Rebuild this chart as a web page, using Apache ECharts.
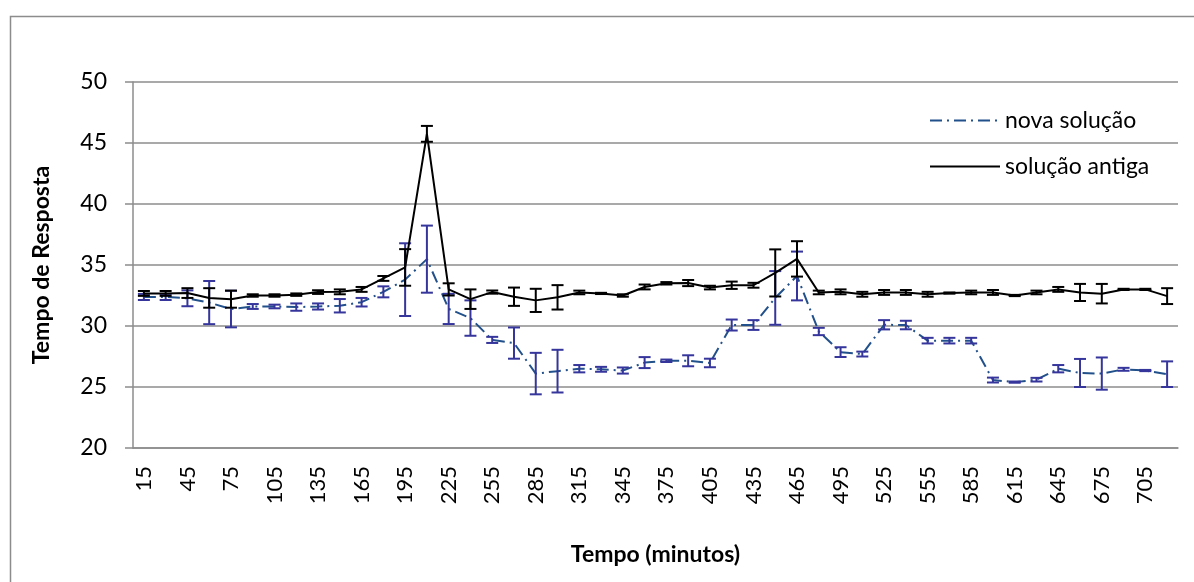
<!DOCTYPE html>
<html>
<head>
<meta charset="utf-8">
<script src="https://cdn.jsdelivr.net/npm/echarts@6/dist/echarts.min.js"></script>
<style>
html,body{margin:0;padding:0;background:#fff;}
#chart{width:1194px;height:582px;}
</style>
</head>
<body>
<div id="chart"></div>
<script>
// Categories (minutes)
var categories = ['15','30','45','60','75','90','105','120','135','150','165','180','195','210','225','240',
  '255','270','285','300','315','330','345','360','375','390','405','420','435','450','465','480',
  '495','510','525','540','555','570','585','600','615','630','645','660','675','690','705','720'];

// nova solução: mean response time and error amount
var novaValues = [32.38,32.38,32.27,31.92,31.39,31.6,31.6,31.55,31.6,31.66,31.95,32.8,33.8,35.48,31.4,30.65,
  28.86,28.6,26.1,26.3,26.5,26.45,26.35,27.0,27.15,27.15,26.97,30.08,30.08,32.3,34.1,29.55,
  27.86,27.7,30.1,30.08,28.8,28.8,28.8,25.57,25.4,25.6,26.5,26.15,26.1,26.45,26.35,26.05];
var novaErrors = [0.25,0.25,0.65,1.77,1.5,0.2,0.15,0.3,0.25,0.55,0.35,0.45,2.98,2.75,1.24,1.45,
  0.25,1.28,1.7,1.75,0.3,0.2,0.25,0.45,0.1,0.45,0.35,0.45,0.4,2.2,2.0,0.3,
  0.4,0.2,0.38,0.35,0.23,0.23,0.23,0.2,0.05,0.15,0.3,1.15,1.32,0.12,0.05,1.05];

// solução antiga: mean response time and error amount
var antigaValues = [32.67,32.67,32.7,32.3,32.2,32.5,32.5,32.57,32.78,32.8,33.0,33.9,34.8,45.75,33.0,32.2,
  32.78,32.4,32.1,32.35,32.75,32.67,32.5,33.2,33.5,33.52,33.15,33.34,33.34,34.35,35.5,32.75,
  32.8,32.6,32.75,32.75,32.6,32.7,32.75,32.75,32.5,32.75,33.0,32.75,32.65,33.0,33.0,32.45];
var antigaErrors = [0.2,0.2,0.4,0.8,0.7,0.1,0.1,0.1,0.15,0.2,0.2,0.2,1.5,0.65,0.5,0.8,
  0.13,0.75,0.95,1.0,0.15,0.05,0.1,0.2,0.1,0.25,0.15,0.3,0.2,1.93,1.45,0.15,
  0.2,0.2,0.2,0.2,0.2,0.05,0.15,0.2,0.05,0.15,0.2,0.7,0.8,0.05,0.05,0.65];

var yTicks = [20,25,30,35,40,45,50];

var FONT = 'Lato, "Open Sans", sans-serif';

function errData(vals, errs){
  return vals.map(function(v,i){ return [i, v - errs[i], v + errs[i]]; });
}
function errRender(color){
  return function(params, api){
    var i = api.value(0);
    var pLo = api.coord([i, api.value(1)]);
    var pHi = api.coord([i, api.value(2)]);
    var w = 6;
    var st = {stroke: color, lineWidth: 2, fill: null};
    return {type:'group', children:[
      {type:'line', shape:{x1:pLo[0], y1:pLo[1], x2:pHi[0], y2:pHi[1]}, style: st},
      {type:'line', shape:{x1:pLo[0]-w, y1:pLo[1], x2:pLo[0]+w, y2:pLo[1]}, style: st},
      {type:'line', shape:{x1:pHi[0]-w, y1:pHi[1], x2:pHi[0]+w, y2:pHi[1]}, style: st}
    ]};
  };
}

var chart = echarts.init(document.getElementById('chart'), null, {renderer:'canvas'});
chart.setOption({
  animation: false,
  backgroundColor: '#ffffff',
  graphic: [
    {type:'rect', left: 8, top: 14, shape:{x:0, y:0, width:1250, height:650},
     style:{fill:null, stroke:'#8c8c8c', lineWidth:1.5}, silent:true, z:-10}
  ],
  grid: {left: 133, right: 16, top: 82, bottom: 134, containLabel: false},
  legend: {
    data: ['nova solução', 'solução antiga'],
    orient: 'vertical',
    left: 924,
    top: 104,
    itemWidth: 70,
    itemHeight: 14,
    itemGap: 23,
    itemStyle: {opacity: 0},
    textStyle: {fontFamily: FONT, fontSize: 23, color: '#000'}
  },
  xAxis: {
    type: 'category',
    data: categories,
    name: 'Tempo (minutos)',
    nameLocation: 'middle',
    nameGap: 95,
    nameTextStyle: {fontFamily: FONT, fontSize: 23, fontWeight: 'bold', color: '#000'},
    axisLine: {show: true, lineStyle: {color: '#8c8c8c', width: 1.5}},
    axisTick: {show: false},
    axisLabel: {interval: 1, rotate: 90, margin: 18, fontFamily: FONT, fontSize: 22, color: '#000'},
    splitLine: {show: false}
  },
  yAxis: {
    type: 'value',
    min: yTicks[0],
    max: yTicks[yTicks.length-1],
    interval: 5,
    name: 'Tempo de Resposta',
    nameLocation: 'middle',
    nameGap: 80,
    nameTextStyle: {fontFamily: FONT, fontSize: 23, fontWeight: 'bold', color: '#000'},
    axisLine: {show: true, lineStyle: {color: '#8c8c8c', width: 1.5}},
    axisTick: {show: true, length: 8, lineStyle: {color: '#8c8c8c', width: 1.5}},
    axisLabel: {margin: 26, fontFamily: FONT, fontSize: 23, color: '#000'},
    splitLine: {show: true, lineStyle: {color: '#8c8c8c', width: 1.5}}
  },
  series: [
    {
      name: 'nova solução',
      type: 'line',
      data: novaValues,
      symbol: 'none',
      lineStyle: {color: '#21508a', width: 2, type: [12, 5, 2, 5]},
      itemStyle: {color: '#21508a'},
      z: 2
    },
    {
      name: 'nova erro',
      type: 'custom',
      data: errData(novaValues, novaErrors),
      renderItem: errRender('#35359c'),
      encode: {x: 0, y: [1, 2]},
      z: 3
    },
    {
      name: 'solução antiga',
      type: 'line',
      data: antigaValues,
      symbol: 'none',
      lineStyle: {color: '#000000', width: 2},
      itemStyle: {color: '#000000'},
      z: 4
    },
    {
      name: 'antiga erro',
      type: 'custom',
      data: errData(antigaValues, antigaErrors),
      renderItem: errRender('#000000'),
      encode: {x: 0, y: [1, 2]},
      z: 5
    }
  ]
});
</script>
</body>
</html>
